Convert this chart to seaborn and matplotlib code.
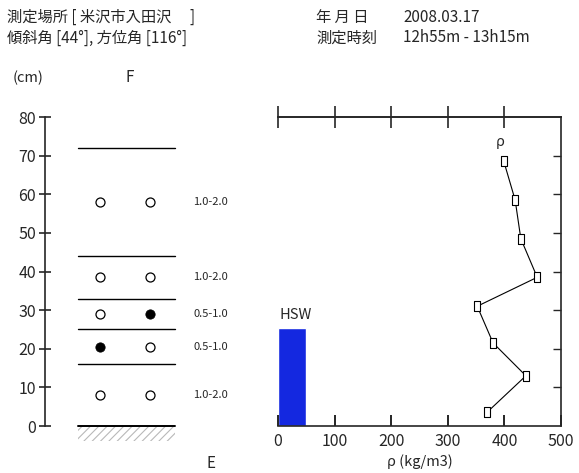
import numpy as np
import pandas as pd
import matplotlib
matplotlib.use("Agg")
import matplotlib.pyplot as plt
import seaborn as sns
from matplotlib.patches import Rectangle

# ---- data ----
layer_tops = [72, 44, 33, 25, 16]          # layer boundaries (cm)
grain_h = [58, 38.5, 29, 20.5, 8]           # grain sample heights (cm)
left_filled = [False, False, False, True, False]
right_filled = [False, False, True, False, False]
grain_size = ["1.0-2.0", "1.0-2.0", "0.5-1.0", "0.5-1.0", "1.0-2.0"]

dens_h = [3.5, 13, 21.5, 31, 38.5, 48.5, 58.5, 68.5]
dens = [369, 438, 380, 352, 458, 429, 419, 399]
hsw = 25.5

sns.set_style("white", rc={'xtick.bottom': True, 'ytick.left': True})
plt.rcParams['font.family'] = ['Noto Sans CJK JP', 'DejaVu Sans']
plt.rcParams['hatch.linewidth'] = 0.8

W, H = 579, 473
fig = plt.figure(figsize=(W / 100, H / 100), dpi=100)

def box(x0, y0, x1, y1):
    return [x0 / W, 1 - y1 / H, (x1 - x0) / W, (y1 - y0) / H]

# header
fs_h = 11
fig.text(7 / W, 1 - 17 / H, "測定場所 [ 米沢市入田沢　 ]", fontsize=fs_h, va='center')
fig.text(7 / W, 1 - 38 / H, "傾斜角 [44°], 方位角 [116°]", fontsize=fs_h, va='center')
fig.text(316 / W, 1 - 17 / H, "年 月 日", fontsize=fs_h, va='center')
fig.text(316 / W, 1 - 38 / H, "測定時刻", fontsize=fs_h, va='center')
fig.text(403 / W, 1 - 17 / H, "2008.03.17", fontsize=fs_h, va='center')
fig.text(403 / W, 1 - 38 / H, "12h55m - 13h15m", fontsize=fs_h, va='center')
fig.text(13 / W, 1 - 78 / H, "(cm)", fontsize=10.5, va='center')
fig.text(130 / W, 1 - 78 / H, "F", fontsize=11, va='center', ha='center')
fig.text(211 / W, 1 - 463 / H, "E", fontsize=11, va='center', ha='center')

# ---- left: stratigraphy ----
ax1 = fig.add_axes(box(45, 117, 270, 426))
ax1.set_xlim(0, 225)
ax1.set_ylim(0, 80)
for s in ['top', 'right', 'bottom']:
    ax1.spines[s].set_visible(False)
ax1.spines['left'].set_bounds(0, 80)
ax1.spines['left'].set_linewidth(1.2)
ax1.set_xticks([])
ax1.set_yticks(np.arange(0, 81, 10))
ax1.tick_params(axis='y', left=True, direction='inout', length=9, width=1.2,
                labelsize=11.5, pad=2)

for h in layer_tops:
    ax1.plot([33, 130], [h, h], color='k', lw=1.0)
ax1.plot([33, 130], [0, 0], color='k', lw=1.4, clip_on=False)
ax1.add_patch(Rectangle((33, -4), 97, 4, fill=False, hatch='////',
                        edgecolor='#b8b8b8', lw=0, clip_on=False))

gdf = pd.DataFrame({'h': grain_h, 'lf': left_filled, 'rf': right_filled})
for col, xpos in [('lf', 55), ('rf', 105)]:
    open_ = gdf[~gdf[col]]
    full = gdf[gdf[col]]
    sns.scatterplot(x=[xpos] * len(open_), y=open_['h'], ax=ax1, marker='o', s=42,
                    facecolor='white', edgecolor='k', linewidth=0.9, clip_on=False)
    sns.scatterplot(x=[xpos] * len(full), y=full['h'], ax=ax1, marker='o', s=45,
                    color='k', edgecolor='k', clip_on=False)
for h, lab in zip(grain_h, grain_size):
    ax1.text(148, h, lab, fontsize=8, va='center', ha='left')
ax1.set_xlabel('')
ax1.set_ylabel('')

# ---- right: density profile ----
ax2 = fig.add_axes(box(278, 117, 561, 426))
ax2.set_xlim(0, 500)
ax2.set_ylim(0, 80)
ax2.spines['left'].set_visible(False)
for s in ['top', 'right', 'bottom']:
    ax2.spines[s].set_linewidth(1.2)
ax2.bar(0, hsw, width=50, align='edge', color='#1428e0')
ax2.text(2, hsw + 1.5, "HSW", fontsize=10.5, va='bottom', ha='left')

rect = [(-0.6, -1), (0.6, -1), (0.6, 1), (-0.6, 1), (-0.6, -1)]
sns.lineplot(x=dens, y=dens_h, sort=False, estimator=None, ax=ax2, color='k', lw=0.8,
             marker=rect, markersize=7, markerfacecolor='white', markeredgecolor='k',
             markeredgewidth=0.8)
ax2.text(dens[-1] - 6, dens_h[-1] + 4, "ρ", fontsize=10.5, style='italic', ha='center')
ax2.set_ylabel('')

# bottom: labels from the x axis, inward tick marks drawn on the axis transform
xt = np.arange(0, 501, 100)
ax2.set_xticks(xt)
ax2.tick_params(axis='x', bottom=True, top=False, length=0, labelsize=11.5, pad=5)
ax2.vlines(xt, 0, 0.036, transform=ax2.get_xaxis_transform(), color='k', lw=1.2,
           clip_on=False)
ax2.set_xlabel("ρ (kg/m3)", fontsize=10.5, labelpad=3)

ax2.yaxis.tick_right()
ax2.set_yticks(np.arange(10, 71, 10))
ax2.tick_params(axis='y', right=True, left=False, direction='in', length=6, width=1.0,
                labelright=False, labelleft=False)

top = ax2.secondary_xaxis('top')
top.set_xticks(np.arange(0, 401, 100))
top.tick_params(direction='inout', length=16, width=1.2, labeltop=False)
top.spines['top'].set_linewidth(1.2)

fig.savefig("out.png", dpi=100)
